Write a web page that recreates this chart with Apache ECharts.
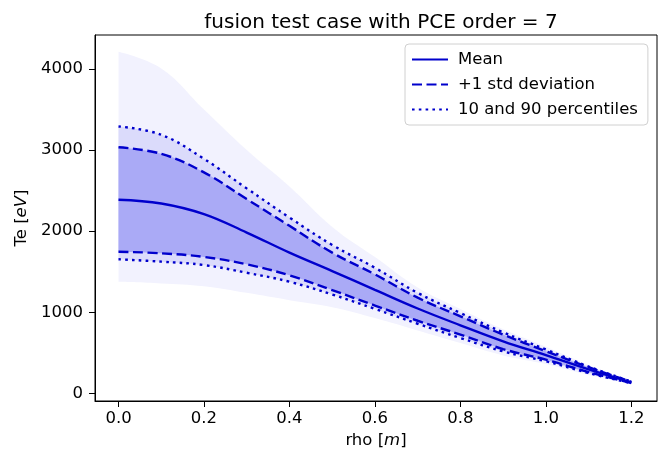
<!DOCTYPE html>
<html>
<head>
<meta charset="utf-8">
<script src="https://cdn.jsdelivr.net/npm/echarts@6/dist/echarts.min.js"></script>
<style>html,body{margin:0;padding:0;background:#fff}#c{width:664px;height:455px}</style>
</head>
<body>
<div id="c"></div>
<script>
// ---- data ----
const rho      = [0,    0.1,  0.2,  0.3,  0.4,  0.5,  0.6,  0.7,  0.8,  0.9, 1.0, 1.1, 1.2];
const outerTop = [4213, 4007, 3500, 3000, 2550, 2053, 1680, 1305, 1040, 790, 575, 350, 150];
const p90      = [3292, 3189, 2892, 2528, 2169, 1830, 1549, 1239, 991,  752, 540, 330, 145];
const stdPlus  = [3036, 2954, 2726, 2396, 2066, 1735, 1467, 1180, 950,  724, 520, 322, 142];
const meanTe   = [2388, 2342, 2211, 1983, 1735, 1508, 1276, 1046, 839,  641, 470, 295, 135];
const stdMinus = [1747, 1727, 1682, 1591, 1455, 1273, 1083, 895,  724,  545, 415, 262, 127];
const p10      = [1653, 1624, 1582, 1487, 1376, 1219, 1041, 858,  682,  517, 395, 250, 124];
const outerBot = [1376, 1356, 1322, 1239, 1149, 1062, 929,  775,  620,  467, 360, 225, 118];
const xTicks = [0, 0.2, 0.4, 0.6, 0.8, 1.0, 1.2];
const yTicks = [0, 1000, 2000, 3000, 4000];
const titleText = 'fusion test case with PCE order = 7';
const names = ['Mean', '+1 std deviation', '10 and 90 percentiles'];

// ---- styles ----
const FONT = 'DejaVu Sans';
const LINE = '#0000cc';
const C_OUT = '#f2f2fe', C_PCT = '#dbdbfb', C_STD = '#aaaaf6';
const SM = 0.4;
const T = 'rgba(0,0,0,0)';

const pairs = a => rho.map((r, i) => [r, a[i]]);
// band series: value first so that stacking happens on the y dimension
const vpairs = a => rho.map((r, i) => [a[i], r]);
const vdiff = (a, b) => rho.map((r, i) => [a[i] - b[i], r]);

function band(id, lo, hi, color) {
  return [
    { type: 'line', name: id + '_lo', stack: id, data: vpairs(lo), encode: { x: 1, y: 0 }, symbol: 'none', smooth: SM,
      lineStyle: { width: 0, opacity: 0 }, silent: true, z: 1 },
    { type: 'line', name: id + '_hi', stack: id, data: vdiff(hi, lo), encode: { x: 1, y: 0 }, symbol: 'none', smooth: SM,
      lineStyle: { width: 0, opacity: 0 }, areaStyle: { color: color, opacity: 1 }, silent: true, z: 1 }
  ];
}
function line(name, arr, type) {
  return { type: 'line', name: name, data: pairs(arr), symbol: 'none', smooth: SM, z: 3,
    lineStyle: { color: LINE, width: 2.4, type: type, cap: 'butt' }, itemStyle: { color: LINE } };
}

const chart = echarts.init(document.getElementById('c'), null, { renderer: 'canvas' });
chart.setOption({
  animation: false,
  backgroundColor: '#fff',
  textStyle: { fontFamily: FONT },
  title: {
    text: titleText, left: 376, top: 8, textAlign: 'center',
    textStyle: { fontFamily: FONT, fontSize: 20, fontWeight: 'normal', color: '#000' }
  },
  legend: {
    data: names, orient: 'vertical', left: 405, top: 44,
    padding: [7, 10, 7, 6], itemGap: 8, itemWidth: 36, itemHeight: 16,
    backgroundColor: 'rgba(255,255,255,0.8)', borderColor: '#d0d0d0', borderWidth: 1, borderRadius: 4,
    itemStyle: { color: T, borderColor: T, borderWidth: 0 },
    textStyle: { fontFamily: FONT, fontSize: 16.5, color: '#000', padding: [0, 0, 0, 5] }
  },
  grid: { left: 95, right: 7, top: 35, bottom: 54, show: true, borderColor: '#000', borderWidth: 1, backgroundColor: 'transparent' },
  xAxis: {
    type: 'value', min: -0.055, max: 1.26,
    name: '{a|rho [}{i|m}{a|]}', nameLocation: 'middle', nameGap: 31,
    nameTextStyle: { rich: { a: { fontFamily: FONT, fontSize: 16.5, color: '#000' }, i: { fontFamily: FONT, fontStyle: 'italic', fontSize: 16.5, color: '#000' } } },
    axisLine: { show: true, onZero: false, lineStyle: { color: '#000', width: 1 } },
    axisTick: { show: true, length: 6, lineStyle: { color: '#000' }, customValues: xTicks },
    axisLabel: { fontFamily: FONT, fontSize: 16.5, color: '#000', margin: 9, customValues: xTicks, formatter: v => v.toFixed(1) },
    splitLine: { show: false }
  },
  yAxis: {
    type: 'value', min: -95, max: 4420,
    name: '{a|Te [}{i|eV}{a|]}', nameLocation: 'middle', nameGap: 52, nameRotate: 90,
    nameTextStyle: { rich: { a: { fontFamily: FONT, fontSize: 16.5, color: '#000' }, i: { fontFamily: FONT, fontStyle: 'italic', fontSize: 16.5, color: '#000' } } },
    axisLine: { show: true, onZero: false, lineStyle: { color: '#000', width: 1 } },
    axisTick: { show: true, length: 6, lineStyle: { color: '#000' }, customValues: yTicks },
    axisLabel: { fontFamily: FONT, fontSize: 16.5, color: '#000', margin: 12, customValues: yTicks, formatter: v => String(v) },
    splitLine: { show: false }
  },
  series: [
    ...band('out', outerBot, outerTop, C_OUT),
    ...band('pct', p10, p90, C_PCT),
    ...band('std', stdMinus, stdPlus, C_STD),
    line(names[0], meanTe, 'solid'),
    line(names[1], stdPlus, [10, 4.5]),
    line(names[1], stdMinus, [10, 4.5]),
    line(names[2], p90, [2.6, 4.2]),
    line(names[2], p10, [2.6, 4.2])
  ]
});
</script>
</body>
</html>
